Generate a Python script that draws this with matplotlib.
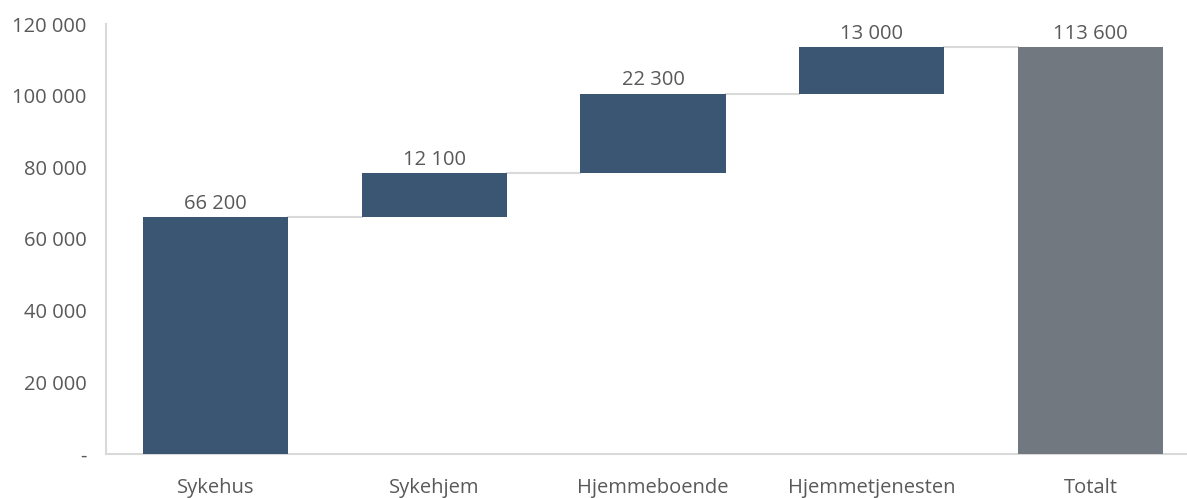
import matplotlib.pyplot as plt
from matplotlib.ticker import FuncFormatter

plt.rcParams['font.family'] = ['Open Sans', 'DejaVu Sans']

categories = ["Sykehus", "Sykehjem", "Hjemmeboende", "Hjemmetjenesten", "Totalt"]
steps = [66200, 12100, 22300, 13000]
total = 113600

BLUE = "#3a5673"
GREY = "#717880"
LINE = "#d9d9d9"
TEXT = "#595959"
FS = 14.5


def fmt(v, pos=None):
    if v == 0:
        return "-"
    return f"{int(v):,}".replace(",", " ")


fig = plt.figure(figsize=(11.87, 4.98), dpi=100)
ax = fig.add_axes([106 / 1187, 44 / 498, 1094 / 1187, 430 / 498])

bottoms = []
running = 0
for s in steps:
    bottoms.append(running)
    running += s

x = list(range(len(categories)))
width = 0.663
ax.bar(x[:-1], steps, bottom=bottoms, width=width, color=BLUE, zorder=3)
ax.bar(x[-1], total, width=width, color=GREY, zorder=3)

# connectors from the top of each bar to the next one
tops = [b + s for b, s in zip(bottoms, steps)]
for i, t in enumerate(tops):
    ax.plot([i + width / 2, i + 1 - width / 2], [t, t], color=LINE, lw=1.5, zorder=2)

labels = steps + [total]
label_y = tops + [total]
for i, (v, y) in enumerate(zip(labels, label_y)):
    ax.text(i, y + 900, fmt(v), ha="center", va="bottom", fontsize=FS, color=TEXT)

ax.set_xlim(-0.5, 4.5)
ax.set_ylim(0, 120000)
ax.set_yticks(range(0, 120001, 20000))
ax.yaxis.set_major_formatter(FuncFormatter(fmt))
ax.set_xticks(x)
ax.set_xticklabels(categories)
ax.tick_params(axis="both", length=0, labelsize=FS, colors=TEXT)
ax.tick_params(axis="y", pad=14)
ax.tick_params(axis="x", pad=17)

for side in ("top", "right"):
    ax.spines[side].set_visible(False)
for side in ("left", "bottom"):
    ax.spines[side].set_color(LINE)
    ax.spines[side].set_linewidth(1.5)

fig.savefig("out.png", dpi=100)
